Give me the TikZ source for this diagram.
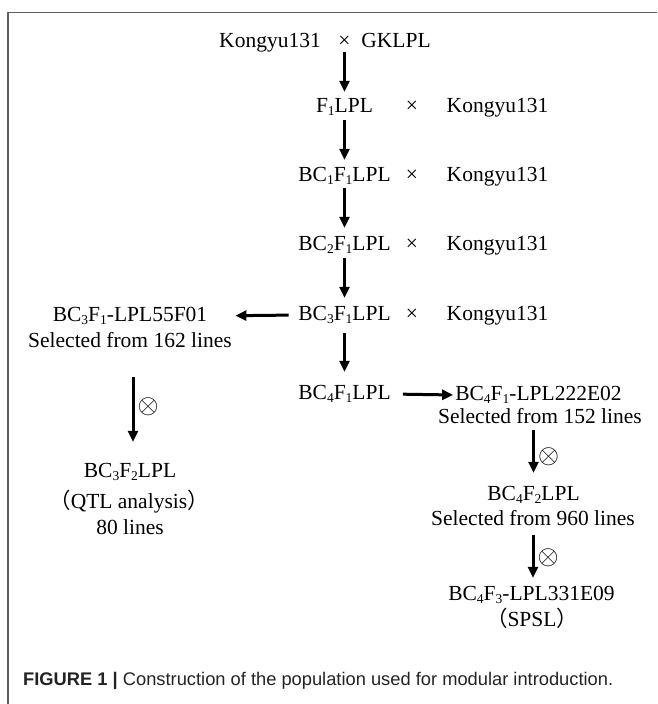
\documentclass[tikz,border=0pt]{standalone}
\usepackage{fontspec}
\setmainfont{Liberation Serif}
\newfontfamily\capfont{Liberation Sans}
\newfontfamily\cjk{Noto Sans CJK SC}
\usetikzlibrary{arrows.meta}
\newcommand{\sbs}[1]{\raisebox{-3.2pt}{\fontsize{13.5}{14}\selectfont #1}}
\newcommand{\selfmark}{\scalebox{2.7}{$\otimes$}}
\definecolor{framegray}{RGB}{95,95,95}
\definecolor{captext}{RGB}{35,35,35}
\begin{document}
\begin{tikzpicture}[x=1pt,y=-1pt,
  lbl/.style={anchor=base,inner sep=0pt,font=\fontsize{21.5}{25}\selectfont,text height=15pt,text depth=5pt},
  arr/.style={line width=3pt,-{Triangle[length=11pt,width=10pt]}},
  selfing/.style={right=3pt,midway,inner sep=0pt,font=\normalsize}]
\useasboundingbox (0,0) rectangle (657,704);
\draw[line width=1.5pt,framegray] (8,704) -- (8,12.5) -- (657,12.5);

% centre column
\node[lbl] (k0) at (270,47) {Kongyu131};
\node[lbl] (x0) at (344.5,47) {×};
\node[lbl] (g0) at (396,47) {GKLPL};

\node[lbl] (f1)  at (344.5,112) {F\sbs{1}LPL};
\node[lbl] (x1)  at (412,112) {×};
\node[lbl] (k1)  at (497.5,112) {Kongyu131};

\node[lbl] (bc1) at (344.5,181) {BC\sbs{1}F\sbs{1}LPL};
\node[lbl] (x2)  at (412,181) {×};
\node[lbl] (k2)  at (497.5,181) {Kongyu131};

\node[lbl] (bc2) at (344.5,250) {BC\sbs{2}F\sbs{1}LPL};
\node[lbl] (x3)  at (412,250) {×};
\node[lbl] (k3)  at (497.5,250) {Kongyu131};

\node[lbl] (bc3) at (344.5,320) {BC\sbs{3}F\sbs{1}LPL};
\node[lbl] (x4)  at (412,320) {×};
\node[lbl] (k4)  at (497.5,320) {Kongyu131};

\node[lbl] (bc4) at (344.5,399) {BC\sbs{4}F\sbs{1}LPL};

% left column
\node[lbl] (l1) at (130,321) {BC\sbs{3}F\sbs{1}-LPL55F01};
\node[lbl] (l2) at (130,347) {Selected from 162 lines};
\node[lbl] (l3) at (130,477) {BC\sbs{3}F\sbs{2}LPL};
\node[lbl] (l4) at (129,508) {{\cjk （}QTL analysis{\cjk ）}};
\node[lbl] (l5) at (130,534) {80 lines};

% right column
\node[lbl] (r1) at (538.5,400) {BC\sbs{4}F\sbs{1}-LPL222E02};
\node[lbl] (r2) at (540,423) {Selected from 152 lines};
\node[lbl] (r3) at (533.5,500) {BC\sbs{4}F\sbs{2}LPL};
\node[lbl] (r4) at (533,525) {Selected from 960 lines};
\node[lbl] (r5) at (531.5,600) {BC\sbs{4}F\sbs{3}-LPL331E09};
\node[lbl] (r6) at (532,626) {{\cjk （}SPSL{\cjk ）}};

% arrows
\draw[arr,shorten >=5pt] (x0.south) -- (f1.north);
\draw[arr,shorten <=3pt,shorten >=6pt] (f1.south) -- (bc1.north);
\draw[arr,shorten <=2pt,shorten >=7pt] (bc1.south) -- (bc2.north);
\draw[arr,shorten <=3pt,shorten >=7pt] (bc2.south) -- (bc3.north);
\draw[arr,shorten <=8pt,shorten >=12pt] (bc3.south) -- (bc4.north);

\draw[arr,shorten <=9.5pt,shorten >=28pt] (bc3.west) -- (l1.east);
\draw[arr,shorten <=12pt,shorten >=2pt] (bc4.east) -- (r1.west);

\draw[arr,shorten <=25pt,shorten >=20pt] ([xshift=3pt]l2.south) -- ([xshift=3pt]l3.north)
  node[selfing] {\selfmark};
\draw[arr,shorten <=2pt,shorten >=12pt] (r2.south -| r3.north) -- (r3.north)
  node[selfing] {\selfmark};
\draw[arr,shorten <=5pt,shorten >=7pt] (r4.south) -- (r4.south |- r5.north)
  node[selfing] {\selfmark};

% caption
\node[anchor=base west,inner sep=0pt,text=captext,font=\capfont\fontsize{18.3}{22}\selectfont] (cap) at (23,685)
  {\textbf{FIGURE 1 |} Construction of the population used for modular introduction.};
\end{tikzpicture}
\end{document}
